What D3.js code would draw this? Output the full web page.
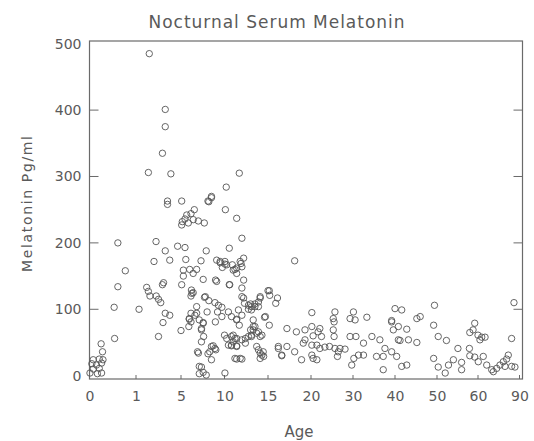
<!DOCTYPE html>
<html>
<head>
<meta charset="utf-8">
<script src="https://cdn.jsdelivr.net/npm/d3@7"></script>
<style>
  body { margin: 0; background: #fff; }
  text { font-family: "DejaVu Sans", sans-serif; fill: #5a5a5a; }
</style>
</head>
<body>
<div id="chart"></div>
<script>
// Nocturnal serum melatonin vs age
var ageTicks = [0, 1, 5, 10, 15, 20, 30, 40, 50, 60, 90];
var valueTicks = [0, 100, 200, 300, 400, 500];

// infants (0-1 yr)
var ages0 = [0.25, 0.28, 0.08, 0.21, 0.29, 0.05, 0.15, 0.26, 0.08, 0.21, 0.01, 0.17, 0.26, 0.61, 0.77, 0.61, 0.53, 0.54];
var mel0  = [48, 36, 24, 25, 24, 18, 16, 19, 10, 11, 4, 3, 4, 200, 158, 134, 103, 56];

// 1-5 yr
var ages1 = [1.27, 2.18, 3.6, 3.6, 3.35, 2.1, 4.1, 3.8, 3.8, 2.78, 3.6, 4.7, 2.6, 4.0, 1.95, 2.1, 2.24, 3.45, 3.35, 2.8, 3.0, 3.2, 3.6, 4.0, 3.4, 3.0];
var mel1  = [100, 485, 401, 375, 335, 306, 304, 263, 258, 202, 188, 195, 172, 174, 133, 127, 120, 140, 137, 120, 115, 110, 94, 91, 80, 59];

// 5-10 yr
var ages2 = [5.08, 8.1, 8.5, 8.5, 8.2, 6.53, 6.15, 5.66, 5.46, 5.15, 5.08, 5.84, 6.41, 6.99, 7.68, 5.46, 7.9, 5.55, 7.3, 9.1,
             9.5, 9.75, 5.27, 6.0, 6.8, 6.4, 5.27, 7.55, 8.97, 5.08, 6.2, 6.4, 7.7, 6.25, 6.15, 9.1, 5.0, 6.8, 6.15, 6.6,
             5.95, 7.1, 7.55, 7.35, 7.8, 8.2, 8.9, 9.3, 9.7, 9.2, 8.0, 8.95, 9.7, 7.35, 6.9, 8.3, 8.7, 8.5, 9.0, 7.35,
             7.1, 7.9, 7.1, 7.55, 7.0, 8.1, 8.5, 8.9, 7.6, 7.35, 7.55, 5.95, 6.15, 5.9, 6.8, 9.5];
var mel2  = [263, 263, 268, 270, 262, 250, 244, 242, 236, 232, 227, 230, 235, 233, 230, 193, 188, 175, 173, 174,
             170, 163, 159, 160, 160, 154, 150, 145, 144, 137, 129, 125, 118, 124, 120, 142, 68, 104, 94, 91,
             85, 84, 79, 69, 119, 113, 110, 106, 103, 96, 96, 81, 89, 51, 36, 36, 45, 24, 39, 13,
             3, 1, 14, 5, 34, 33, 44, 41, 59, 71, 80, 86, 81, 74, 94, 172];

// 10-15 yr
var ages3 = [10.2, 11.7, 10.1, 11.4, 12.0, 10.55, 10.06, 10.9, 11.8, 12.0, 10.55, 10.6, 12.0, 15.0, 10.45, 10.8, 11.4, 11.7, 12.0, 12.3,
             12.75, 13.1, 13.5, 14.1, 13.9, 10.0, 10.25, 10.8, 11.0, 11.4, 12.0, 12.4, 12.75, 13.1, 13.3, 13.5, 13.9, 14.1, 14.7, 11.4,
             12.0, 13.9, 14.3, 14.1, 10.05, 10.45, 10.8, 11.4, 10.05, 10.25, 11.4, 11.0, 12.2, 11.9, 11.2, 11.4, 12.2, 12.2, 13.0, 13.5,
             14.1, 13.1, 13.9, 12.75, 11.6, 12.0, 11.4, 14.6, 13.3, 13.3, 13.0, 13.7, 14.3, 13.1, 11.0, 11.2, 10.8, 11.4, 12.4, 13.7,
             14.1, 14.5, 14.45, 11.2, 11.8];
var mel3  = [284, 305, 250, 237, 207, 192, 168, 167, 172, 164, 137, 137, 132, 128, 96, 89, 84, 76, 119, 109,
             106, 104, 108, 119, 111, 61, 56, 59, 51, 56, 54, 56, 59, 61, 69, 74, 66, 59, 89, 25,
             25, 39, 31, 26, 4, 46, 45, 45, 172, 167, 162, 159, 177, 169, 160, 154, 144, 117, 108, 104,
             117, 99, 104, 100, 99, 91, 85, 88, 84, 74, 69, 64, 61, 59, 61, 56, 46, 44, 49, 44,
             34, 29, 36, 26, 26];

// adolescents and adults (15-90 yr)
var ages4 = [15.2, 15.9, 16.1, 16.2, 16.6, 18.1, 15.15, 15.15, 17.2, 18.3, 19.3, 16.2, 17.2, 16.6, 18.1, 18.9, 19.1, 19.3, 20.2, 20.2,
             22.1, 21.7, 22.5, 20.5, 20.2, 21.4, 22.1, 23.3, 24.4, 25.7, 26.9, 28.1, 20.2, 21.4, 20.5, 25.7, 25.3, 25.5, 25.3, 25.5,
             26.5, 26.3, 30.1, 29.3, 30.5, 33.3, 29.3, 30.7, 29.7, 30.2, 31.3, 32.5, 32.5, 34.5, 36.4, 37.6, 35.6, 37.2, 37.2, 40,
             41.6, 39.2, 40.8, 39.6, 40.8, 39.2, 40.4, 41.6, 42.8, 39.2, 42.8, 41.2, 43.2, 45.2, 46, 45.2, 49.4, 49.2, 50.3, 52.3,
             55.1, 57.9, 49.2, 50.3, 52.8, 52, 54, 56, 56, 58, 60, 62.7, 65.1, 61.4, 58, 59.2, 60.2, 63.8, 66.3, 69.9,
             73.5, 75.9, 78.3, 80.7, 81.9, 79.5, 84.3, 86.7, 71.1, 86, 84.3, 59.2, 58.8];
var mel4  = [121, 109, 117, 41, 31, 173, 128, 76, 71, 66, 69, 44, 44, 30, 36, 24, 49, 54, 95, 74,
             71, 66, 59, 60, 46, 46, 41, 43, 44, 41, 41, 40, 31, 24, 26, 96, 86, 81, 69, 59,
             36, 29, 96, 86, 84, 88, 59, 59, 16, 26, 31, 31, 49, 59, 54, 41, 29, 29, 9, 101,
             99, 81, 74, 69, 54, 36, 29, 14, 16, 83, 70, 53, 54, 50, 89, 86, 106, 76, 59, 53,
             41, 41, 26, 13, 16, 4, 24, 20, 9, 65, 61, 58, 58, 54, 30, 28, 21, 29, 16, 9,
             11, 16, 21, 25, 31, 14, 14, 13, 6, 110, 56, 79, 69];

var ages = ages0.concat(ages1, ages2, ages3, ages4);
var melatonin = mel0.concat(mel1, mel2, mel3, mel4);
var points = ages.map(function(a, i) { return { age: a, value: melatonin[i] }; });

var width = 534, height = 441;
var frame = { left: 89.5, right: 522.5, top: 41, bottom: 379 };

var svg = d3.select("#chart").append("svg")
    .attr("width", width)
    .attr("height", height);

// the age axis is stretched: every tick gets about the same room
var x = d3.scaleLinear()
    .domain(ageTicks)
    .range([89.5, 136, 181, 224.5, 268, 311, 353, 395, 437, 478, 519.5]);

var y = d3.scaleLinear()
    .domain([-5, 500])
    .range([frame.bottom, 43.7]);

// frame
svg.append("rect")
    .attr("x", frame.left).attr("y", frame.top)
    .attr("width", frame.right - frame.left).attr("height", frame.bottom - frame.top)
    .attr("fill", "none")
    .attr("stroke", "#6a6a6a")
    .attr("stroke-width", 1.2);

var xAxis = d3.axisBottom(x).tickValues(ageTicks).tickSize(0).tickPadding(12);
var gx = svg.append("g")
    .attr("transform", "translate(0," + frame.bottom + ")")
    .call(xAxis);
gx.select(".domain").remove();
gx.selectAll("text").attr("font-size", 14).attr("fill", "#666").style("font-family", "DejaVu Sans");

// small inward ticks on the age axis
svg.append("g").selectAll("line")
    .data(ageTicks.slice(1))
    .join("line")
    .attr("x1", function(d) { return x(d); })
    .attr("x2", function(d) { return x(d); })
    .attr("y1", frame.bottom).attr("y2", frame.bottom - 4)
    .attr("stroke", "#6a6a6a");

var yAxis = d3.axisLeft(y).tickValues(valueTicks).tickSize(0).tickPadding(8);
var gy = svg.append("g")
    .attr("transform", "translate(" + frame.left + ",0)")
    .call(yAxis);
gy.select(".domain").remove();
gy.selectAll("text").attr("font-size", 14).attr("fill", "#666").style("font-family", "DejaVu Sans");

// inward ticks on left and right
var inner = valueTicks.slice(1, 5);
svg.append("g").selectAll("line")
    .data(inner)
    .join("line")
    .attr("x1", frame.left).attr("x2", frame.left + 9)
    .attr("y1", function(d) { return y(d); })
    .attr("y2", function(d) { return y(d); })
    .attr("stroke", "#6a6a6a");
svg.append("g").selectAll("line")
    .data(inner)
    .join("line")
    .attr("x1", frame.right).attr("x2", frame.right - 9)
    .attr("y1", function(d) { return y(d); })
    .attr("y2", function(d) { return y(d); })
    .attr("stroke", "#6a6a6a");

// data
svg.append("g").selectAll("circle")
    .data(points)
    .join("circle")
    .attr("cx", function(d) { return x(d.age); })
    .attr("cy", function(d) { return y(d.value); })
    .attr("r", 3.2)
    .attr("fill", "none")
    .attr("stroke", "#555")
    .attr("stroke-width", 0.9);

// titles
svg.append("text")
    .attr("x", 276.5).attr("y", 28)
    .attr("text-anchor", "middle")
    .attr("font-size", 17)
    .attr("textLength", 256)
    .attr("lengthAdjust", "spacing")
    .text("Nocturnal  Serum  Melatonin");

svg.append("text")
    .attr("x", 299).attr("y", 437)
    .attr("text-anchor", "middle")
    .attr("font-size", 15)
    .text("Age");

svg.append("text")
    .attr("transform", "translate(32,204) rotate(-90)")
    .attr("text-anchor", "middle")
    .attr("font-size", 14)
    .attr("textLength", 136)
    .attr("lengthAdjust", "spacing")
    .text("Melatonin  Pg/ml");
</script>
</body>
</html>
